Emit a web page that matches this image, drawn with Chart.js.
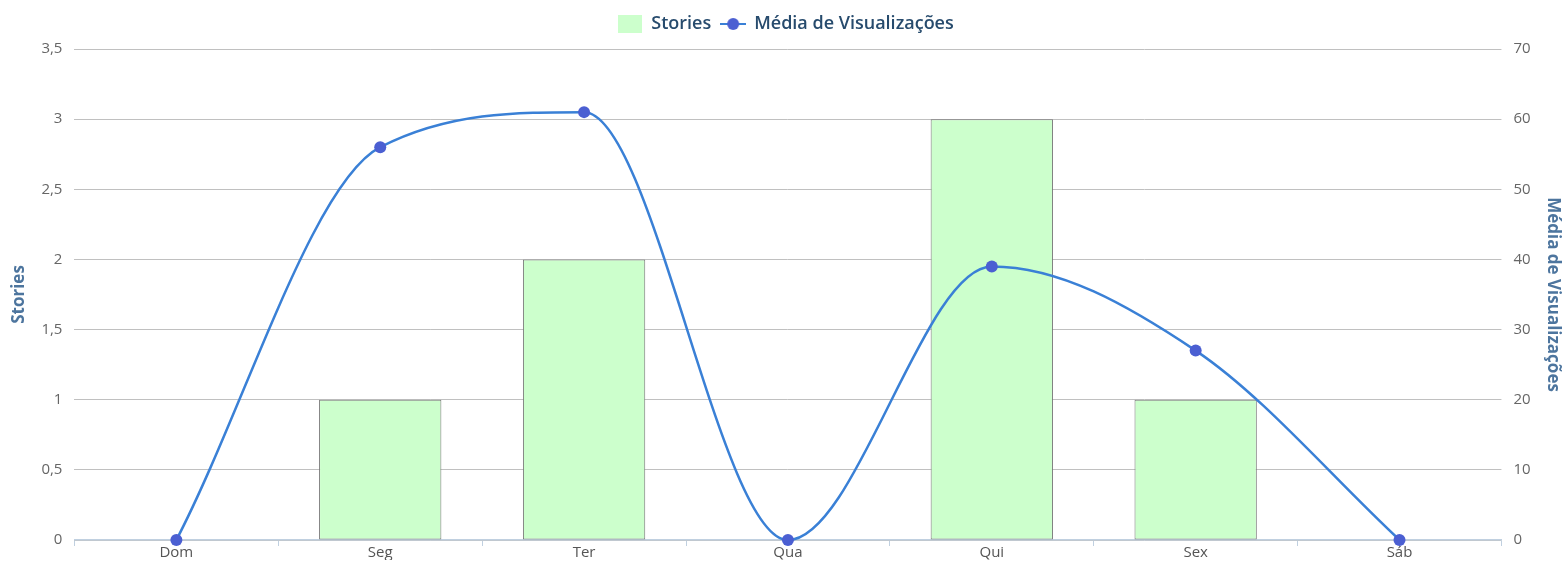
<!DOCTYPE html>
<html>
<head>
<meta charset="utf-8">
<script src="https://cdn.jsdelivr.net/npm/chart.js@4"></script>
<style>
    body { margin: 0; background: #fff; }
    #wrap { width: 1565px; height: 562px; }
</style>
</head>
<body>
<div id="wrap"><canvas id="chart"></canvas></div>
<script>
// dados do gráfico
const dias = ['Dom', 'Seg', 'Ter', 'Qua', 'Qui', 'Sex', 'Sáb'];
const stories = [0, 1, 2, 0, 3, 1, 0];
const mediaVisualizacoes = [0, 56, 61, 0, 39, 27, 0];

const corLinha = '#3a80d6';
const corPonto = '#4b5fd2';
const fonte = 'Open Sans';

// ícones da legenda
function iconeBarra() {
    const c = document.createElement('canvas');
    c.width = 24; c.height = 18;
    const ctx = c.getContext('2d');
    ctx.fillStyle = '#ccffcc';
    ctx.fillRect(0, 0, 24, 18);
    return c;
}

function iconeLinha() {
    const c = document.createElement('canvas');
    c.width = 26; c.height = 18;
    const ctx = c.getContext('2d');
    ctx.strokeStyle = corLinha;
    ctx.lineWidth = 2;
    ctx.beginPath();
    ctx.moveTo(0, 9);
    ctx.lineTo(26, 9);
    ctx.stroke();
    ctx.fillStyle = corPonto;
    ctx.beginPath();
    ctx.arc(13, 9, 6, 0, Math.PI * 2);
    ctx.fill();
    return c;
}

const icones = [iconeBarra(), iconeLinha()];

// espaço extra abaixo da legenda
const margemLegenda = {
    id: 'margemLegenda',
    beforeInit(chart) {
        const fitOriginal = chart.legend.fit;
        chart.legend.fit = function () {
            fitOriginal.bind(chart.legend)();
            this.height += 6;
        };
    }
};

const ctx = document.getElementById('chart').getContext('2d');
new Chart(ctx, {
    type: 'bar',
    data: {
        labels: dias,
        datasets: [{
            label: 'Stories',
            data: stories,
            backgroundColor: '#ccffcc',
            borderColor: '#777777',
            borderWidth: 1,
            borderSkipped: false,
            barPercentage: 0.6,
            categoryPercentage: 1,
            yAxisID: 'y',
            order: 2
        }, {
            type: 'line',
            label: 'Média de Visualizações',
            data: mediaVisualizacoes,
            borderColor: corLinha,
            borderWidth: 2.5,
            pointBackgroundColor: corPonto,
            pointBorderColor: corPonto,
            pointRadius: 6,
            pointBorderWidth: 0,
            cubicInterpolationMode: 'monotone',
            fill: false,
            clip: false,
            yAxisID: 'y1',
            order: 1
        }]
    },
    plugins: [margemLegenda],
    options: {
        responsive: true,
        maintainAspectRatio: false,
        animation: false,
        devicePixelRatio: 1,
        layout: { padding: { left: 9, right: 2, top: 5, bottom: 2 } },
        plugins: {
            legend: {
                position: 'top',
                labels: {
                    usePointStyle: true,
                    pointStyleWidth: 24,
                    padding: 10,
                    color: '#274b6d',
                    font: { family: fonte, size: 18, weight: 600 },
                    sort: (a, b) => a.datasetIndex - b.datasetIndex,
                    generateLabels: (chart) => {
                        const itens = Chart.defaults.plugins.legend.labels.generateLabels(chart);
                        itens.forEach((item) => { item.pointStyle = icones[item.datasetIndex]; });
                        return itens;
                    }
                }
            },
            tooltip: { enabled: false }
        },
        scales: {
            x: {
                offset: true,
                grid: {
                    offset: true,
                    drawOnChartArea: false,
                    drawTicks: true,
                    tickLength: 6,
                    color: '#c0d0e0'
                },
                border: { color: '#c0d0e0', width: 1.5 },
                ticks: {
                    color: '#555',
                    font: { family: fonte, size: 15 },
                    padding: -2
                }
            },
            y: {
                position: 'left',
                min: 0,
                max: 3.5,
                ticks: {
                    stepSize: 0.5,
                    color: '#666',
                    padding: 12,
                    font: { family: fonte, size: 15 },
                    callback: (v) => String(v).replace('.', ',')
                },
                grid: { color: '#c0c0c0', drawTicks: false },
                border: { display: false },
                title: {
                    display: true,
                    text: 'Stories',
                    color: '#4d759e',
                    font: { family: fonte, size: 17, weight: 'bold' },
                    padding: 0
                }
            },
            y1: {
                position: 'right',
                min: 0,
                max: 70,
                ticks: {
                    stepSize: 10,
                    color: '#666',
                    padding: 12,
                    font: { family: fonte, size: 15 }
                },
                grid: { drawOnChartArea: false, drawTicks: false },
                border: { display: false },
                title: {
                    display: true,
                    text: 'Média de Visualizações',
                    color: '#4d759e',
                    font: { family: fonte, size: 17, weight: 'bold' },
                    padding: 0
                }
            }
        }
    }
});
</script>
</body>
</html>
